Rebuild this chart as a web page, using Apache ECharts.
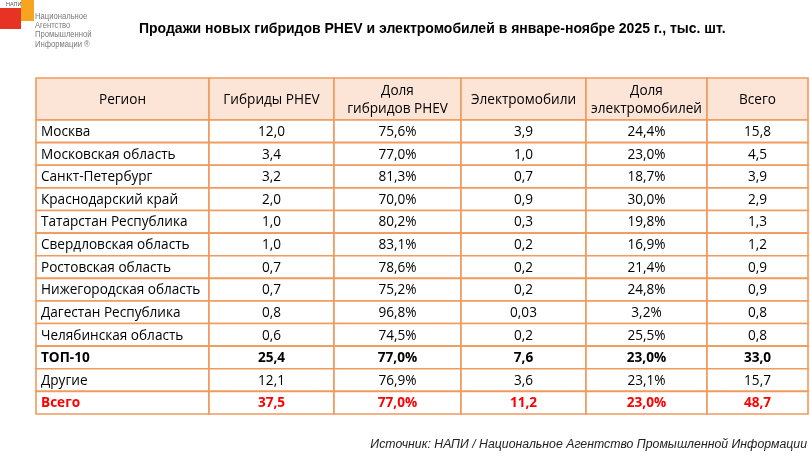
<!DOCTYPE html>
<html>
<head>
<meta charset="utf-8">
<script src="https://cdn.jsdelivr.net/npm/echarts@6/dist/echarts.min.js"></script>
<style>
  html, body { margin: 0; padding: 0; background: #fff; }
  #main { width: 810px; height: 458px; }
</style>
</head>
<body>
<div id="main"></div>
<script>
var headers = ['Регион', 'Гибриды PHEV', 'Доля\nгибридов PHEV', 'Электромобили', 'Доля\nэлектромобилей', 'Всего'];
var regions = ['Москва', 'Московская область', 'Санкт-Петербург', 'Краснодарский край', 'Татарстан Республика',
  'Свердловская область', 'Ростовская область', 'Нижегородская область', 'Дагестан Республика',
  'Челябинская область', 'ТОП-10', 'Другие', 'Всего'];
var phev = [12.0, 3.4, 3.2, 2.0, 1.0, 1.0, 0.7, 0.7, 0.8, 0.6, 25.4, 12.1, 37.5];
var phevShare = [75.6, 77.0, 81.3, 70.0, 80.2, 83.1, 78.6, 75.2, 96.8, 74.5, 77.0, 76.9, 77.0];
var ev = [3.9, 1.0, 0.7, 0.9, 0.3, 0.2, 0.2, 0.2, 0.03, 0.2, 7.6, 3.6, 11.2];
var evShare = [24.4, 23.0, 18.7, 30.0, 19.8, 16.9, 21.4, 24.8, 3.2, 25.5, 23.0, 23.1, 23.0];
var total = [15.8, 4.5, 3.9, 2.9, 1.3, 1.2, 0.9, 0.9, 0.8, 0.8, 33.0, 15.7, 48.7];

// layout
var colWidths = [173, 125, 127, 125, 121, 101];
var HEAD = 1.86; // header row height, in data-row units
var colEdges = [0];
colWidths.forEach(function (w) { colEdges.push(colEdges[colEdges.length - 1] + w); });

function num(v) { return v.toFixed(v < 0.1 ? 2 : 1).replace('.', ','); }
function pct(v) { return v.toFixed(1).replace('.', ',') + '%'; }

function cellText(c, r) {
  if (r < 0) return headers[c];
  if (c === 0) return regions[r];
  if (c === 1) return num(phev[r]);
  if (c === 2) return pct(phevShare[r]);
  if (c === 3) return num(ev[r]);
  if (c === 4) return pct(evShare[r]);
  return num(total[r]);
}

var cells = [];
for (var r = -1; r < regions.length; r++) {
  for (var c = 0; c < headers.length; c++) cells.push([c, r]);
}

var FONT = '"Open Sans", "Noto Sans", sans-serif';

function renderCell(params, api) {
  var c = api.value(0), r = api.value(1);
  var y0 = r < 0 ? 0 : HEAD + r;
  var y1 = r < 0 ? HEAD : HEAD + r + 1;
  var p0 = api.coord([colEdges[c], y0]);
  var p1 = api.coord([colEdges[c + 1], y1]);
  var bold = r === 10 || r === 12;
  var color = r === 12 ? '#ff0000' : '#000';
  var left = c === 0 && r >= 0;
  return {
    type: 'group',
    children: [{
      type: 'rect',
      shape: { x: p0[0], y: p0[1], width: p1[0] - p0[0], height: p1[1] - p0[1] },
      style: { fill: r < 0 ? '#fce4d6' : '#fff', stroke: '#f09a5c', lineWidth: 1.6 }
    }, {
      type: 'text',
      x: left ? p0[0] + 5 : (p0[0] + p1[0]) / 2,
      y: (p0[1] + p1[1]) / 2 + 0.8,
      style: {
        text: cellText(c, r),
        align: left ? 'left' : 'center',
        verticalAlign: 'middle',
        fontFamily: FONT,
        fontSize: 13.6,
        fontWeight: bold ? 'bold' : 'normal',
        lineHeight: 18,
        fill: color
      }
    }]
  };
}

var myChart = echarts.init(document.getElementById('main'));
myChart.setOption({
  animation: false,
  title: {
    text: 'Продажи новых гибридов PHEV и электромобилей в январе-ноябре 2025 г., тыс. шт.',
    left: 139,
    top: 22,
    padding: 0,
    textStyle: { fontFamily: '"Liberation Sans", Arial', fontWeight: 'bold', fontSize: 14, color: '#000' }
  },
  grid: { left: 36, right: 2, top: 78, bottom: 44 },
  xAxis: { type: 'value', min: 0, max: colEdges[colEdges.length - 1], show: false },
  yAxis: { type: 'value', inverse: true, min: 0, max: HEAD + regions.length, show: false },
  series: [{
    type: 'custom',
    clip: false,
    renderItem: renderCell,
    encode: { x: 0, y: 1 },
    data: cells
  }],
  graphic: [
    { type: 'rect', shape: { x: 21, y: 0, width: 13, height: 21 }, style: { fill: '#f7a520' } },
    { type: 'rect', shape: { x: 0, y: 8, width: 21, height: 21 }, style: { fill: '#e63323' } },
    { type: 'text', x: 6, y: 1, style: { text: 'НАПИ', font: '5.5px "Liberation Sans"', fill: '#555' } },
    { type: 'text', x: 35, y: 12, scaleX: 0.85, style: { text: 'Национальное\nАгентство\nПромышленной\nИнформации ®', font: '9px "Liberation Sans"', lineHeight: 9.2, fill: '#7a7a7a' } },
    { type: 'text', right: 3, top: 439, style: { text: 'Источник: НАПИ / Национальное Агентство Промышленной Информации', font: 'italic 12.3px "Liberation Sans", Arial', fill: '#222' } }
  ]
});
</script>
</body>
</html>
